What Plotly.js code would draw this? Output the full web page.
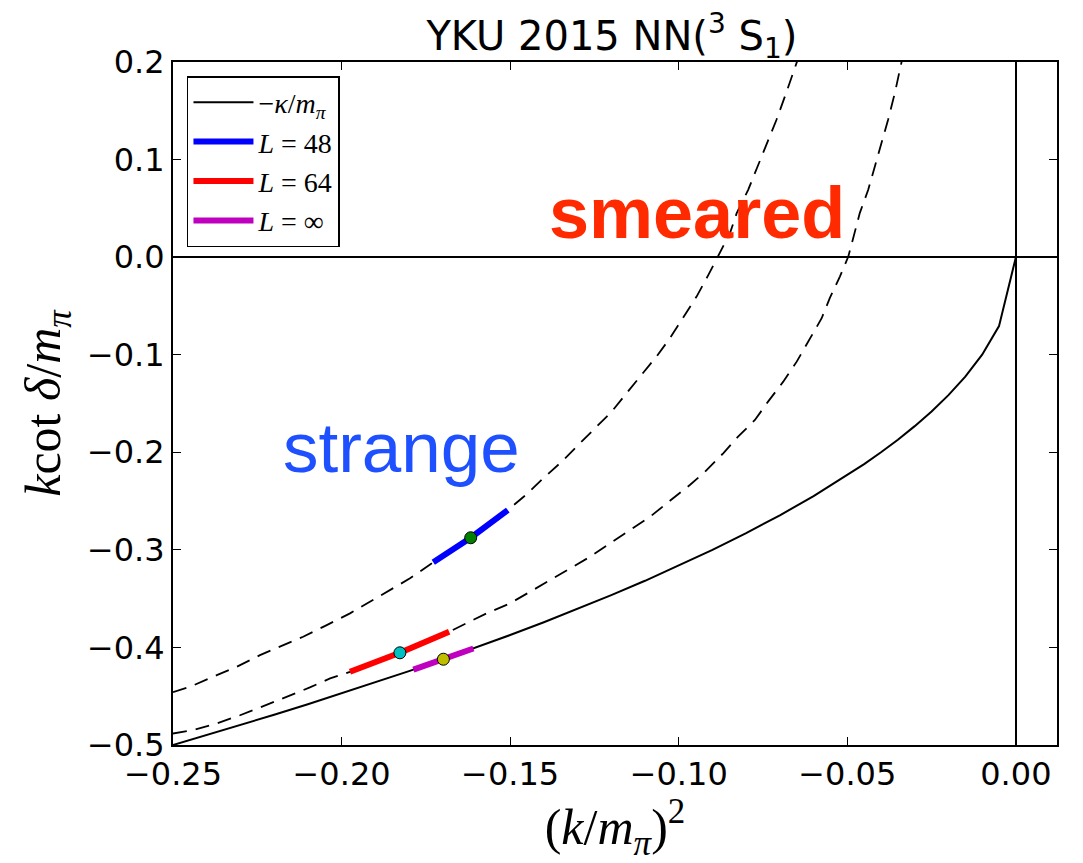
<!DOCTYPE html>
<html>
<head>
<meta charset="utf-8">
<script src="https://cdn.plot.ly/plotly-3.0.1.min.js"></script>
<style>html,body{margin:0;padding:0;background:#fff;}#chart{width:1083px;height:863px;}</style>
</head>
<body>
<div id="chart"></div>
<script>
// -kappa/m_pi curve (solid), x = (k/m_pi)^2, y = k cot(delta)/m_pi
const kappaX = [-0.25,-0.24,-0.23,-0.22,-0.21,-0.20,-0.19,-0.18,-0.17,-0.16,-0.15,-0.14,-0.13,-0.12,-0.11,-0.10,-0.09,-0.08,-0.07,-0.06,-0.05,-0.045,-0.04,-0.035,-0.03,-0.025,-0.02,-0.015,-0.01,-0.005,0];
const kappaY = [-0.5,-0.4899,-0.4796,-0.4690,-0.4583,-0.4472,-0.4359,-0.4243,-0.4123,-0.4,-0.3873,-0.3742,-0.3606,-0.3464,-0.3317,-0.3162,-0.3,-0.2828,-0.2646,-0.2449,-0.2236,-0.2121,-0.2,-0.1871,-0.1732,-0.1581,-0.1414,-0.1225,-0.1,-0.0707,0];

// upper dashed curve (L=48 fit)
const dashAX = [-0.25,-0.2450,-0.2370,-0.2311,-0.2242,-0.2173,-0.2114,-0.2044,-0.1975,-0.1916,-0.1856,-0.1797,-0.1728,-0.1617,-0.1507,-0.1451,-0.1402,-0.1347,-0.1298,-0.1249,-0.1199,-0.1155,-0.1110,-0.1066,-0.1026,-0.0987,-0.0947,-0.0912,-0.0883,-0.0848,-0.0828,-0.0794,-0.0764,-0.0735,-0.0710,-0.0685,-0.0660,-0.0649,-0.0641];
const dashAY = [-0.4458,-0.4404,-0.4284,-0.4199,-0.4079,-0.3976,-0.3891,-0.3771,-0.3651,-0.3532,-0.3412,-0.3292,-0.3128,-0.2876,-0.2592,-0.2430,-0.2267,-0.2096,-0.1925,-0.1754,-0.1584,-0.1395,-0.1207,-0.1019,-0.0831,-0.0626,-0.0404,-0.0182,0.0006,0.0246,0.0451,0.0690,0.0947,0.1186,0.1408,0.1647,0.1887,0.2003,0.2085];

// lower dashed curve (L=64 fit)
const dashBX = [-0.25,-0.2440,-0.2370,-0.2301,-0.2232,-0.2163,-0.2094,-0.2034,-0.1975,-0.1827,-0.1681,-0.1570,-0.1501,-0.1441,-0.1382,-0.1323,-0.1263,-0.1204,-0.1145,-0.1085,-0.1026,-0.0967,-0.0922,-0.0868,-0.0824,-0.0774,-0.0735,-0.0690,-0.0650,-0.0611,-0.0576,-0.0552,-0.0522,-0.0497,-0.0477,-0.0463,-0.0438,-0.0418,-0.0398,-0.0379,-0.0359,-0.0344,-0.0338,-0.0334];
const dashBY = [-0.4882,-0.4848,-0.4779,-0.4695,-0.4602,-0.4507,-0.4410,-0.4318,-0.4250,-0.4055,-0.3840,-0.3651,-0.3549,-0.3430,-0.3310,-0.3190,-0.3071,-0.2933,-0.2797,-0.2661,-0.2497,-0.2335,-0.2199,-0.2010,-0.1840,-0.1669,-0.1481,-0.1276,-0.1071,-0.0831,-0.0626,-0.0421,-0.0199,0.0006,0.0280,0.0451,0.0690,0.0929,0.1169,0.1408,0.1682,0.1921,0.2024,0.2080];

// thick segments
const l48X = [-0.1728,-0.1617,-0.1507];
const l48Y = [-0.3128,-0.2876,-0.2592];
const l64X = [-0.1975,-0.1827,-0.1681];
const l64Y = [-0.4250,-0.4055,-0.3840];
const linfX = [-0.1787,-0.175,-0.17,-0.165,-0.1609];
const linfY = [-0.4227,-0.4183,-0.4123,-0.4062,-0.4011];

// points
const ptX = [-0.1617,-0.1827,-0.1698];
const ptY = [-0.2876,-0.4055,-0.4121];
const ptColors = ['#008000','#00bfbf','#bfbf00'];

const seriesNames = ['−<i>κ</i>/<i>m</i><sub><i>π</i></sub>','<i>L</i> = 48','<i>L</i> = 64','<i>L</i> = ∞'];
const xTicks = [-0.25,-0.20,-0.15,-0.10,-0.05,0.00];
const yTicks = [-0.5,-0.4,-0.3,-0.2,-0.1,0.0,0.1,0.2];

const traces = [
  {x: dashAX, y: dashAY, mode:'lines', line:{color:'black', width:1.8, dash:'14px,9px'}, showlegend:false, hoverinfo:'skip'},
  {x: dashBX, y: dashBY, mode:'lines', line:{color:'black', width:1.8, dash:'14px,9px'}, showlegend:false, hoverinfo:'skip'},
  {x: kappaX, y: kappaY, mode:'lines', name: seriesNames[0], line:{color:'black', width:2}},
  {x: l48X, y: l48Y, mode:'lines', name: seriesNames[1], line:{color:'#0000ff', width:6}},
  {x: l64X, y: l64Y, mode:'lines', name: seriesNames[2], line:{color:'#ff0000', width:6}},
  {x: linfX, y: linfY, mode:'lines', name: seriesNames[3], line:{color:'#bf00bf', width:6}},
  {x: ptX, y: ptY, mode:'markers', showlegend:false, marker:{color: ptColors, size:12, line:{color:'black', width:1}}}
];

const axisCommon = {
  showgrid:false, ticks:'inside', ticklen:8, tickwidth:1, tickcolor:'black',
  showline:true, linecolor:'black', linewidth:2, mirror:'ticks',
  zeroline:true, zerolinecolor:'black', zerolinewidth:2,
  tickfont:{family:'DejaVu Sans', size:32, color:'black'}
};

const layout = {
  width:1083, height:863,
  margin:{l:173, r:26, t:62, b:118},
  paper_bgcolor:'white', plot_bgcolor:'white',
  title:{text:'YKU 2015 NN(<sup>3</sup> S<sub>1</sub>)', font:{family:'DejaVu Sans', size:40, color:'black'},
    x:0.565, xanchor:'center', yref:'paper', y:1, yanchor:'bottom', pad:{b:12}},
  xaxis: Object.assign({}, axisCommon, {range:[-0.25,0.0122], tickvals:xTicks, tickformat:'.2f',
    title:{text:'(<i>k</i>/<i>m</i><sub><i>π</i></sub>)<sup>2</sup>', font:{family:'Liberation Serif', size:50, color:'black'}, standoff:4}}),
  yaxis: Object.assign({}, axisCommon, {range:[-0.5,0.2], tickvals:yTicks, tickformat:'.1f',
    title:{text:'<i>k</i>cot <i>δ</i>/<i>m</i><sub><i>π</i></sub>', font:{family:'Liberation Serif', size:50, color:'black'}, standoff:10}}),
  legend:{x:0.0158, y:0.9795, xanchor:'left', yanchor:'top', bgcolor:'white', bordercolor:'black', borderwidth:1.5,
    font:{family:'Liberation Serif', size:28, color:'black'}, traceorder:'normal', itemwidth:60},
  annotations:[
    {x:-0.0946, y:0.045, xref:'x', yref:'y', text:'<b>smeared</b>', showarrow:false, xanchor:'center', yanchor:'middle',
     font:{family:'Liberation Sans', size:72, color:'#ff2a00'}},
    {x:-0.1821, y:-0.1956, xref:'x', yref:'y', text:'strange', showarrow:false, xanchor:'center', yanchor:'middle',
     font:{family:'Liberation Sans', size:71, color:'#1e50ff'}}
  ]
};

Plotly.newPlot('chart', traces, layout, {displayModeBar:false, staticPlot:true});
</script>
</body>
</html>
